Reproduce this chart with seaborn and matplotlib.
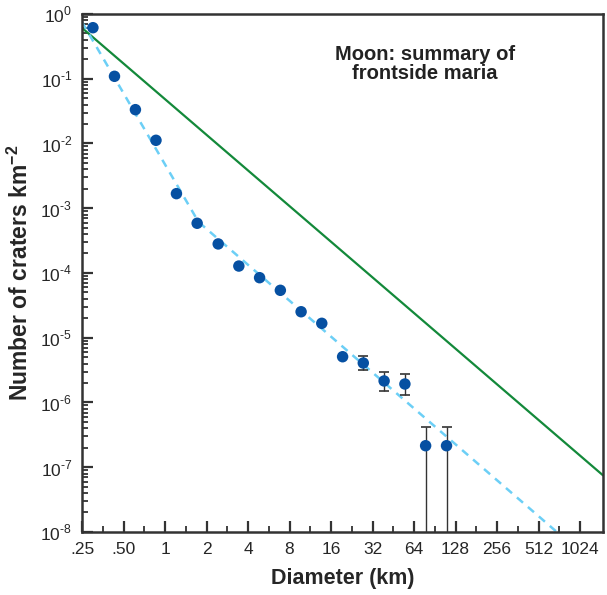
import seaborn as sns
import pandas as pd
import numpy as np
import matplotlib.pyplot as plt
from matplotlib.ticker import FixedLocator, FixedFormatter, NullFormatter

# crater counts, frontside maria (sqrt-2 diameter bins)
diameter = [0.30, 0.43, 0.61, 0.86, 1.21, 1.71, 2.43, 3.43, 4.85, 6.86,
            9.7, 13.7, 19.4, 27.4, 38.8, 54.9, 77.6, 110]
density = [0.614, 0.109, 0.0333, 0.0112, 1.68e-3, 5.86e-4, 2.81e-4, 1.28e-4,
           8.46e-5, 5.40e-5, 2.52e-5, 1.67e-5, 5.09e-6, 4.07e-6, 2.15e-6,
           1.93e-6, 2.15e-7, 2.15e-7]

# error bars on the large craters
err_d = [27.4, 38.8, 54.9, 77.6, 110]
err_n = [4.07e-6, 2.15e-6, 1.93e-6, 2.15e-7, 2.15e-7]
err_hi = [5.22e-6, 2.96e-6, 2.75e-6, 4.19e-7, 4.19e-7]
err_lo = [3.18e-6, 1.51e-6, 1.30e-6, 0, 0]

# saturation equilibrium line (green) and production function (dashed)
sat_d = [0.25, 1500]
sat_n = [0.61, 7.5e-8]
prod_d = [0.25, 1.75, 694]
prod_n = [0.752, 6.13e-4, 1e-8]

xticks = [0.25 * 2 ** k for k in range(13)]
xlabels = ['.25', '.50', '1', '2', '4', '8', '16', '32', '64', '128', '256', '512', '1024']
yexp = [0, -1, -2, -3, -4, -5, -6, -7, -8]

sns.set_style('ticks')
plt.rcParams['font.family'] = ['Liberation Sans', 'DejaVu Sans']
plt.rcParams['mathtext.fontset'] = 'custom'
plt.rcParams['mathtext.rm'] = 'Liberation Sans'
plt.rcParams['mathtext.bf'] = 'Liberation Sans:bold'

fig = plt.figure(figsize=(6.07, 5.95), dpi=100)
ax = fig.add_axes([0.1351, 0.1059, 0.8583, 0.8706])
ax.set_xscale('log')
ax.set_yscale('log')

sns.lineplot(x=sat_d, y=sat_n, ax=ax, color='#13893a', lw=1.6, zorder=2)
sns.lineplot(x=prod_d, y=prod_n, ax=ax, color='#6ccff6', lw=1.8,
             linestyle=(0, (3.2, 2.6)), zorder=2)

lo = np.array(err_n) - np.maximum(np.array(err_lo), 1e-10)
hi = np.array(err_hi) - np.array(err_n)
ax.errorbar(err_d, err_n, yerr=[lo, hi], fmt='none', ecolor='#333333',
            elinewidth=1.0, capsize=3.5, capthick=1.2, zorder=3)

pts = pd.DataFrame({'D': diameter, 'N': density})
sns.scatterplot(data=pts, x='D', y='N', ax=ax, color='#0650a2', s=68,
                edgecolor='none', zorder=4, clip_on=False)

ax.set_xlim(0.25, 1500)
ax.set_ylim(1e-8, 1)

ax.xaxis.set_major_locator(FixedLocator(xticks))
ax.xaxis.set_major_formatter(FixedFormatter(xlabels))
ax.xaxis.set_minor_locator(FixedLocator([t * 2 ** 0.5 for t in xticks[:-1]]))
ax.xaxis.set_minor_formatter(NullFormatter())

ax.yaxis.set_major_locator(FixedLocator([10.0 ** e for e in yexp]))
ax.yaxis.set_major_formatter(FixedFormatter(
    ['10$^{%s}$' % str(e).replace('-', '\u2010') for e in yexp]))
ax.yaxis.set_minor_locator(FixedLocator(
    [m * 10.0 ** e for e in yexp[1:] for m in range(2, 10)]))
ax.yaxis.set_minor_formatter(NullFormatter())

ax.tick_params(which='major', direction='in', length=8, width=1.6,
               color='#333333', labelsize=12.5, pad=7)
ax.tick_params(which='minor', direction='in', length=4.5, width=1.3,
               color='#333333')
for s in ax.spines.values():
    s.set_linewidth(1.8)
    s.set_color('#333333')

ax.set_xlabel('Diameter (km)', fontsize=15.5, fontweight='bold', labelpad=8)
ax.set_ylabel('Number of craters km$^{\\mathbf{-2}}$', fontsize=16.5,
              fontweight='bold', labelpad=5)
ax.text(0.658, 0.903, 'Moon: summary of\nfrontside maria', transform=ax.transAxes,
        ha='center', va='center', fontsize=14.5, fontweight='bold',
        color='#222222', linespacing=1.0)

plt.savefig('out.png', dpi=100)
